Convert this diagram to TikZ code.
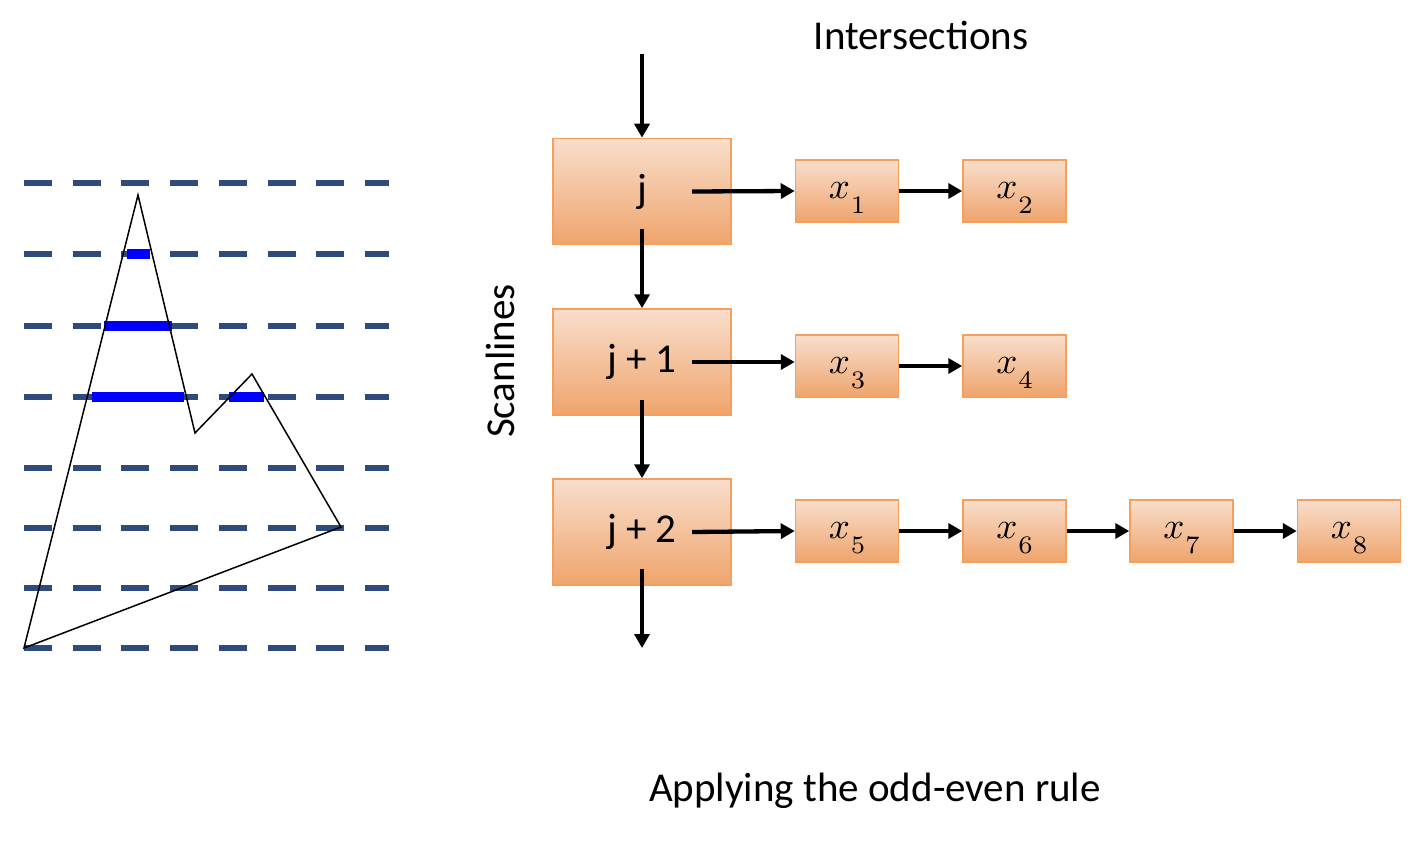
\documentclass[tikz,border=0pt]{standalone}
\usepackage{fontspec}
\setmainfont{Carlito}
\usetikzlibrary{arrows.meta}
\definecolor{scanblue}{RGB}{47,75,126}
\definecolor{boxtop}{RGB}{248,222,204}
\definecolor{boxbot}{RGB}{239,164,108}
\definecolor{boxline}{RGB}{244,160,92}
\newcommand{\xsub}[1]{\scalebox{3.7}{$x$}\hspace{1pt}\raisebox{-15pt}{\scalebox{3.6}{$\scriptstyle #1$}}\hspace{10pt}}
\tikzset{
  bigbox/.style={rectangle, top color=boxtop, bottom color=boxbot, draw=boxline, line width=1.5pt,
    minimum width=178pt, minimum height=106pt, inner sep=0pt, font=\fontsize{41}{49}\selectfont},
  smallbox/.style={rectangle, top color=boxtop, bottom color=boxbot, draw=boxline, line width=1.5pt,
    minimum width=103pt, minimum height=62pt, inner sep=0pt, text height=15.5pt, text depth=0pt},
  arr/.style={line width=4.3pt, -{Triangle[length=14pt,width=15pt]}},
  scan/.style={scanblue, line width=6.5pt, dash pattern=on 28pt off 20.7pt},
  hit/.style={blue, line width=10pt},
  poly/.style={black, line width=1.5pt, line join=miter},
  lbl/.style={font=\fontsize{41}{49}\selectfont, inner sep=0pt}
}
\begin{document}
\begin{tikzpicture}[x=1pt,y=-1pt]
\useasboundingbox (0,0) rectangle (1415,842);
% scanlines
\foreach \yy in {183,254,326,397,468,528,588,648}
  \draw[scan] (24,\yy) -- (389,\yy);
% interior spans
\draw[hit] (127,254) -- (150,254);
\draw[hit] (104,326) -- (172,326);
\draw[hit] (92,397) -- (184,397);
\draw[hit] (229,397) -- (264,397);
% polygon
\draw[poly] (138,195) -- (195,433) -- (252,374) -- (341,527) -- (24,648) -- cycle;
% labels
\node[lbl] (tInt) at (921,35) {Intersections};
\node[lbl, rotate=90] (tScan) at (500,361) {Scanlines};
\node[lbl] (tRule) at (875,791) {Applying the odd-even rule};
% scanline boxes
\node[bigbox] (b1) at (642,191.5) {j};
\node[bigbox] (b2) at (642,362) {j + 1};
\node[bigbox] (b3) at (642,532) {j + 2};
% intersection boxes
\node[smallbox] (x1) at (847,191) {\xsub{1}};
\node[smallbox] (x2) at (1014.5,191) {\xsub{2}};
\node[smallbox] (x3) at (847,366) {\xsub{3}};
\node[smallbox] (x4) at (1014.5,366) {\xsub{4}};
\node[smallbox] (x5) at (847,531) {\xsub{5}};
\node[smallbox] (x6) at (1014.5,531) {\xsub{6}};
\node[smallbox] (x7) at (1181.5,531) {\xsub{7}};
\node[smallbox] (x8) at (1349,531) {\xsub{8}};
% vertical arrows
\coordinate (top) at (642,54);
\coordinate (bot) at (642,648);
\draw[arr] (top) -- (b1.north);
\draw[arr] ([yshift=-38pt]b1.center) -- (b2.north);
\draw[arr] ([yshift=-38pt]b2.center) -- (b3.north);
\draw[arr] ([yshift=-37pt]b3.center) -- (bot);
% horizontal arrows
\draw[arr] ([xshift=50pt]b1.center) -- (x1.west);
\draw[arr] (x1.east) -- (x2.west);
\draw[arr] ([xshift=50pt]b2.center) -- (x3.west |- b2.center);
\draw[arr] (x3.east) -- (x4.west);
\draw[arr] ([xshift=50pt]b3.center) -- (x5.west);
\draw[arr] (x5.east) -- (x6.west);
\draw[arr] (x6.east) -- (x7.west);
\draw[arr] (x7.east) -- (x8.west);
\end{tikzpicture}
\end{document}
